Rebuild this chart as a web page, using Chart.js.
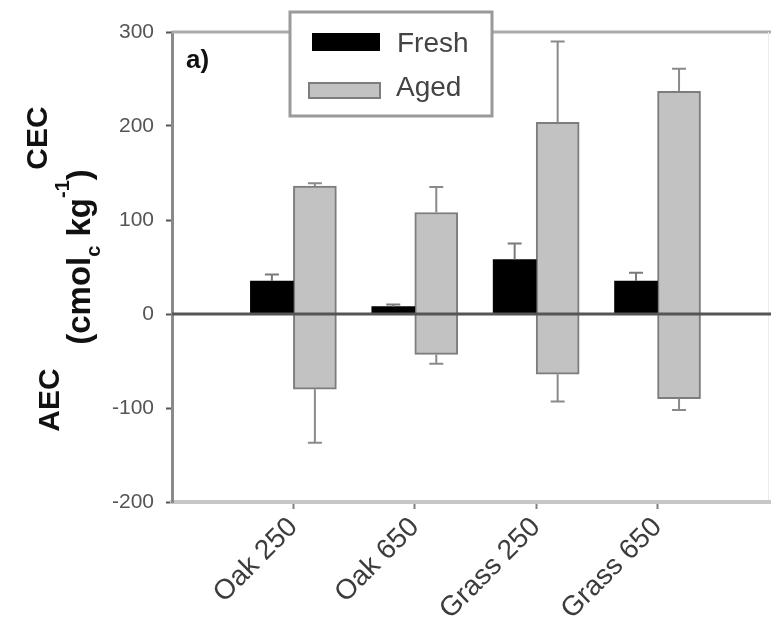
<!DOCTYPE html>
<html>
<head>
<meta charset="utf-8">
<style>
  html, body { margin: 0; padding: 0; background: #fff; }
  #wrap { width: 771px; height: 620px; }
</style>
<script src="https://cdn.jsdelivr.net/npm/chart.js@4.4.1/dist/chart.umd.min.js"></script>
</head>
<body>
<div id="wrap"><canvas id="chart" width="771" height="620"></canvas></div>
<script>
// values (cmol_c/kg)
const categories = ['Oak 250', 'Oak 650', 'Grass 250', 'Grass 650'];
const freshCEC = [35, 8, 58, 35];
const freshErr = [7, 2, 17, 9];
const agedCEC = [136, 108, 204, 237];
const agedCECErr = [3, 27, 86, 24];
const agedAEC = [-80, -43, -64, -90];
const agedAECErr = [57, 10, 29, 12];
const yTicks = [-200, -100, 0, 100, 200, 300];

const FONT = '"Liberation Sans", Arial, Helvetica, sans-serif';
Chart.defaults.font.family = FONT;

const xPositions = categories.map((c, i) => i + 1);
const toPoints = vals => vals.map((v, i) => ({ x: xPositions[i], y: v }));

const agedStyle = {
    stack: 'aged',
    backgroundColor: '#c2c2c2',
    borderColor: '#7d7d7d',
    borderWidth: 2,
    barThickness: 43,
    errColor: '#8a8a8a'
};

// top border + faint right edge, drawn under the bars
const frame = {
    id: 'frame',
    beforeDatasetsDraw(chart) {
        const { ctx, chartArea: a } = chart;
        ctx.save();
        ctx.strokeStyle = '#ababab';
        ctx.lineWidth = 3;
        ctx.beginPath();
        ctx.moveTo(a.left, a.top);
        ctx.lineTo(a.right + 3, a.top);
        ctx.stroke();
        ctx.strokeStyle = '#ececec';
        ctx.lineWidth = 1;
        ctx.beginPath();
        ctx.moveTo(a.right + 0.5, a.top);
        ctx.lineTo(a.right + 0.5, a.bottom);
        ctx.stroke();
        ctx.strokeStyle = '#c6c6c6';
        ctx.lineWidth = 4;
        ctx.beginPath();
        ctx.moveTo(a.right, a.bottom);
        ctx.lineTo(a.right + 3, a.bottom);
        ctx.stroke();
        ctx.restore();
    }
};

const zeroLine = {
    id: 'zeroLine',
    afterDatasetsDraw(chart) {
        const { ctx, chartArea: a } = chart;
        const y0 = chart.scales.y.getPixelForValue(0);
        ctx.save();
        ctx.strokeStyle = '#555';
        ctx.lineWidth = 3;
        ctx.beginPath();
        ctx.moveTo(a.left, y0);
        ctx.lineTo(a.right + 3, y0);
        ctx.stroke();
        ctx.restore();
    }
};

const errorBars = {
    id: 'errorBars',
    afterDatasetsDraw(chart) {
        const ctx = chart.ctx;
        const yScale = chart.scales.y;
        chart.data.datasets.forEach((ds, di) => {
            if (!ds.errors) return;
            const meta = chart.getDatasetMeta(di);
            ctx.save();
            ctx.strokeStyle = ds.errColor || '#777';
            ctx.lineWidth = 2;
            meta.data.forEach((bar, i) => {
                const v = ds.data[i].y;
                const e = ds.errors[i];
                const end = yScale.getPixelForValue(v >= 0 ? v + e : v - e);
                ctx.beginPath();
                ctx.moveTo(bar.x, bar.y);
                ctx.lineTo(bar.x, end);
                ctx.moveTo(bar.x - 7, end);
                ctx.lineTo(bar.x + 7, end);
                ctx.stroke();
            });
            ctx.restore();
        });
    }
};

function drawRotated(ctx, cx, cy, pieces) {
    ctx.save();
    ctx.translate(cx, cy);
    ctx.rotate(-Math.PI / 2);
    ctx.textBaseline = 'alphabetic';
    ctx.textAlign = 'left';
    let total = 0;
    pieces.forEach(p => { ctx.font = p.font; total += ctx.measureText(p.text).width; });
    let x = -total / 2;
    pieces.forEach(p => {
        ctx.font = p.font;
        ctx.fillText(p.text, x, p.base);
        x += ctx.measureText(p.text).width;
    });
    ctx.restore();
}

// legend box, panel letter and y axis title
const overlay = {
    id: 'overlay',
    afterDraw(chart) {
        const ctx = chart.ctx;
        const ds = chart.data.datasets;
        ctx.save();
        ctx.fillStyle = '#fff';
        ctx.fillRect(290, 12, 202, 104);
        ctx.strokeStyle = '#9a9a9a';
        ctx.lineWidth = 3;
        ctx.strokeRect(290, 12, 202, 104);

        ctx.fillStyle = ds[0].backgroundColor;
        ctx.fillRect(312, 33, 68, 18);
        ctx.fillStyle = ds[1].backgroundColor;
        ctx.fillRect(309, 83, 71, 15);
        ctx.strokeStyle = ds[1].borderColor;
        ctx.lineWidth = 2;
        ctx.strokeRect(309, 83, 71, 15);

        ctx.fillStyle = '#444';
        ctx.font = '28px ' + FONT;
        ctx.textAlign = 'left';
        ctx.textBaseline = 'alphabetic';
        ctx.fillText(ds[0].label, 397, 52);
        ctx.fillText(ds[1].label, 396, 96);

        ctx.fillStyle = '#111';
        ctx.font = 'bold 26px ' + FONT;
        ctx.fillText('a)', 186, 68);

        const big = 'bold 30px ' + FONT;
        const unit = 'bold 33px ' + FONT;
        const small = 'bold 20px ' + FONT;
        drawRotated(ctx, 27, 138, [{ text: 'CEC', font: big, base: 20 }]);
        drawRotated(ctx, 38, 400, [{ text: 'AEC', font: big, base: 21 }]);
        drawRotated(ctx, 78, 257, [
            { text: '(cmol', font: unit, base: 12 },
            { text: 'c', font: small, base: 22 },
            { text: ' kg', font: unit, base: 12 },
            { text: '-1', font: small, base: -9 },
            { text: ')', font: unit, base: 12 }
        ]);
        ctx.restore();
    }
};

new Chart(document.getElementById('chart'), {
    type: 'bar',
    data: {
        datasets: [
            { label: 'Fresh', data: toPoints(freshCEC), errors: freshErr, stack: 'fresh',
              backgroundColor: '#000', borderWidth: 0, barThickness: 43, errColor: '#7a7a7a' },
            Object.assign({ label: 'Aged', data: toPoints(agedCEC), errors: agedCECErr }, agedStyle),
            Object.assign({ label: 'Aged AEC', data: toPoints(agedAEC), errors: agedAECErr }, agedStyle)
        ]
    },
    options: {
        responsive: false,
        animation: false,
        devicePixelRatio: 1,
        layout: { padding: { top: 32, right: 3, left: 0, bottom: 0 } },
        plugins: { legend: { display: false }, tooltip: { enabled: false } },
        scales: {
            x: {
                type: 'linear',
                min: 0,
                max: 4.91,
                offset: false,
                afterBuildTicks: s => { s.ticks = xPositions.map(v => ({ value: v })); },
                afterFit: s => { s.height = 118; },
                ticks: {
                    callback: (v, i) => categories[i],
                    autoSkip: false,
                    minRotation: 45,
                    maxRotation: 45,
                    padding: 2,
                    color: '#3c3c3c',
                    font: { size: 28 }
                },
                grid: { offset: false, drawOnChartArea: false, tickLength: 7, tickColor: '#808080', tickWidth: 2 },
                border: { color: '#c6c6c6', width: 4 }
            },
            y: {
                min: -200,
                max: 300,
                stacked: true,
                afterBuildTicks: s => { s.ticks = yTicks.map(v => ({ value: v })); },
                afterFit: s => { s.width = 172; },
                ticks: { padding: 12, color: '#555', font: { size: 21 } },
                grid: { drawOnChartArea: false, tickLength: 6, tickColor: '#555', tickWidth: 2 },
                border: { color: '#8a8a8a', width: 3 }
            }
        }
    },
    plugins: [frame, zeroLine, errorBars, overlay]
});
</script>
</body>
</html>
